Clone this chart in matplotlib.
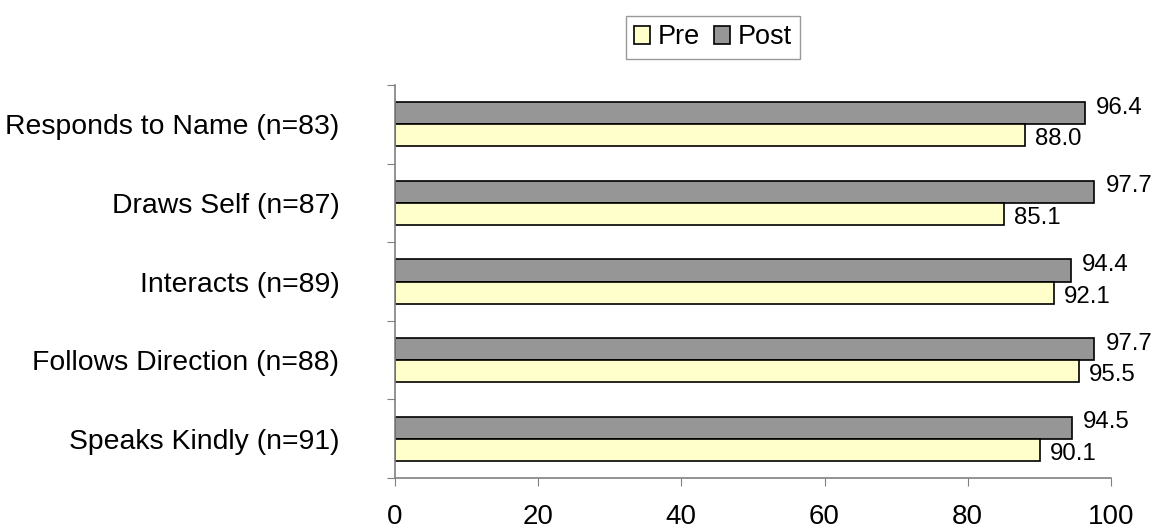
import numpy as np
import matplotlib.pyplot as plt

plt.rcParams['font.family'] = ['Liberation Sans', 'DejaVu Sans']

# Data
categories = ["Responds to Name (n=83)", "Draws Self (n=87)", "Interacts (n=89)",
              "Follows Direction (n=88)", "Speaks Kindly (n=91)"]
pre = [88.0, 85.1, 92.1, 95.5, 90.1]
post = [96.4, 97.7, 94.4, 97.7, 94.5]
xticks = [0, 20, 40, 60, 80, 100]

fig = plt.figure(figsize=(11.56, 5.29), dpi=100)
ax = fig.add_axes([0.3417, 0.0964, 0.6193, 0.7429])

y = np.arange(len(categories))
h = 0.28
b_post = ax.barh(y - h / 2, post, height=h, color="#969696", edgecolor="black",
                 linewidth=1.2, label="Post")
b_pre = ax.barh(y + h / 2, pre, height=h, color="#FFFFCC", edgecolor="black",
                linewidth=1.2, label="Pre")

# Value labels
for rect, v in zip(b_post, post):
    ax.annotate(f"{v:.1f}", (rect.get_width(), rect.get_y() + rect.get_height() / 2),
                xytext=(8, 4), textcoords="offset points", va="center", ha="left", fontsize=17.3)
for rect, v in zip(b_pre, pre):
    ax.annotate(f"{v:.1f}", (rect.get_width(), rect.get_y() + rect.get_height() / 2),
                xytext=(7, -3), textcoords="offset points", va="center", ha="left", fontsize=17.3)

ax.set_xlim(0, 100)
ax.set_ylim(len(categories) - 0.5, -0.5)
ax.set_xticks(xticks)
ax.tick_params(axis="x", labelsize=20, length=6, color="#808080", pad=13)

# category ticks at group boundaries, labels at centres
ax.set_yticks(np.arange(len(categories) + 1) - 0.5)
ax.set_yticklabels([])
ax.tick_params(axis="y", which="major", length=6, color="#808080")
ax.set_yticks(y, minor=True)
ax.set_yticklabels(categories, minor=True)
ax.tick_params(axis="y", which="minor", length=0, labelsize=20.4, pad=40)

for s in ["top", "right"]:
    ax.spines[s].set_visible(False)
for s in ["left", "bottom"]:
    ax.spines[s].set_color("#808080")
    ax.spines[s].set_linewidth(1.2)

handles = [b_pre, b_post]
leg = fig.legend(handles, ["Pre", "Post"], loc="center", bbox_to_anchor=(713 / 1156, 1 - 37.5 / 529),
                 ncol=2, fontsize=19.5, frameon=True, fancybox=False, handlelength=0.6,
                 handleheight=0.6, handletextpad=0.3, columnspacing=0.5, borderpad=0.3)
leg.get_frame().set_edgecolor("#808080")
leg.get_frame().set_linewidth(1.0)

fig.savefig("out.png", dpi=100)
